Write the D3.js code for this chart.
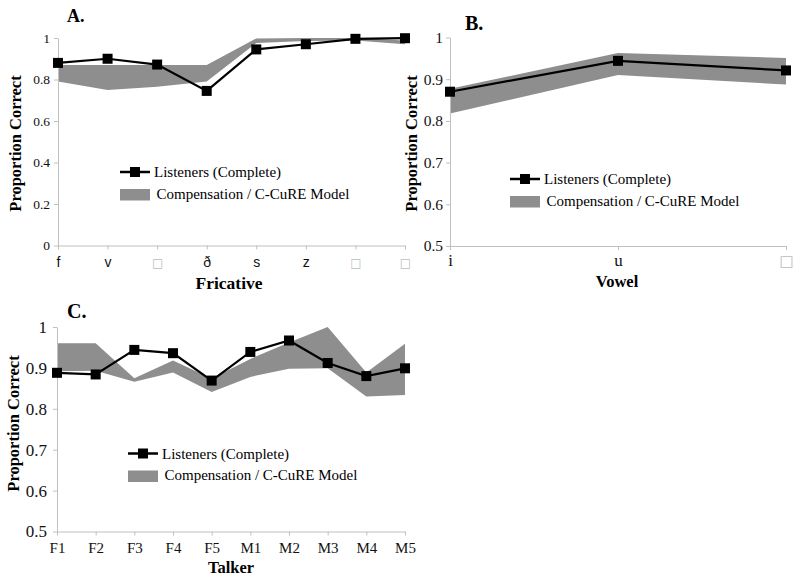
<!DOCTYPE html>
<html><head><meta charset="utf-8">
<script src="https://cdn.jsdelivr.net/npm/d3@7"></script>
<style>body{margin:0;background:#fff}svg{display:block}</style>
</head><body>
<svg id="chart" width="800" height="581"></svg>
<script>
// ---- Data ----
const fricatives = ["f", "v", "□", "ð", "s", "z", "□", "□"];
const fricListeners = [0.88, 0.90, 0.872, 0.745, 0.945, 0.970, 0.996, 0.999];
const fricModelLow  = [0.790, 0.750, 0.765, 0.790, 0.976, 0.986, 0.988, 0.970];
const fricModelHigh = [0.870, 0.870, 0.870, 0.870, 0.998, 1.000, 1.000, 0.988];
const fricYTicks = [0, 0.2, 0.4, 0.6, 0.8, 1];

const vowels = ["i", "u", "□"];
const vowelListeners = [0.870, 0.944, 0.921];
const vowelModelLow  = [0.818, 0.910, 0.887];
const vowelModelHigh = [0.877, 0.963, 0.951];
const vowelYTicks = [0.5, 0.6, 0.7, 0.8, 0.9, 1];

const talkers = ["F1", "F2", "F3", "F4", "F5", "M1", "M2", "M3", "M4", "M5"];
const talkerListeners = [0.888, 0.884, 0.944, 0.936, 0.869, 0.939, 0.967, 0.912, 0.880, 0.899];
const talkerModelLow  = [0.892, 0.893, 0.866, 0.889, 0.841, 0.878, 0.898, 0.899, 0.830, 0.834];
const talkerModelHigh = [0.960, 0.960, 0.875, 0.918, 0.874, 0.922, 0.962, 1.000, 0.889, 0.959];
const talkerYTicks = [0.5, 0.6, 0.7, 0.8, 0.9, 1];

const legendLabels = ["Listeners (Complete)", "Compensation / C-CuRE Model"];
const xTitles = ["Fricative", "Vowel", "Talker"];
const yTitle = "Proportion Correct";
const panelLetters = ["A.", "B.", "C."];

// ---- Style ----
const SERIF = "'Liberation Serif', 'Times New Roman', serif";
const SANS = "'Liberation Sans', Arial, sans-serif";
const AXIS = "#c0c0c0";
const BAND = "#8e8e8e";

const svg = d3.select("#chart");
const fmtTick = d => (d === 0 ? "0" : d === 1 ? "1" : d.toFixed(1));

function panel(o) {
  const g = svg.append("g");
  const n = o.cats.length;
  const x = d3.scalePoint().domain(d3.range(n)).range(o.xRange);
  const y = d3.scaleLinear().domain(o.yDomain).range(o.yRange);

  // band
  g.append("path")
    .datum(d3.range(n))
    .attr("fill", BAND)
    .attr("d", d3.area().x(i => x(i)).y0(i => y(o.low[i])).y1(i => y(o.high[i])));

  // y axis
  const ya = g.append("g").attr("transform", `translate(${o.xRange[0]},0)`)
    .call(d3.axisLeft(y).tickValues(o.yTicks).tickFormat(fmtTick)
      .tickSize(4).tickSizeOuter(0).tickPadding(o.yPad));
  ya.selectAll("path, line").attr("stroke", AXIS);
  ya.selectAll("text").attr("font-family", SERIF).attr("font-size", o.yFont).attr("fill", "#111");

  // x axis
  const xa = g.append("g").attr("transform", `translate(0,${o.yRange[0]})`)
    .call(d3.axisBottom(x).tickFormat(i => o.cats[i]).tickSize(4).tickSizeOuter(0));
  xa.selectAll("path, line").attr("stroke", AXIS);
  xa.selectAll("text")
    .attr("y", o.xLabelOffset).attr("dy", 0)
    .attr("font-family", i => o.cats[i] === "□" ? "'DejaVu Sans', sans-serif" : o.xFamily)
    .attr("font-size", i => o.cats[i] === "□" ? o.xFont - 2 : o.xFont)
    .attr("fill", i => o.cats[i] === "□" ? "#bbb" : "#111");

  // line + markers
  g.append("path")
    .datum(d3.range(n))
    .attr("fill", "none").attr("stroke", "#000").attr("stroke-width", 2.2)
    .attr("d", d3.line().x(i => x(i)).y(i => y(o.listeners[i])));
  g.selectAll("rect.m").data(d3.range(n)).join("rect")
    .attr("class", "m")
    .attr("x", i => x(i) - 5).attr("y", i => y(o.listeners[i]) - 5)
    .attr("width", 10).attr("height", 10).attr("fill", "#000");

  // titles
  g.append("text").attr("x", o.xTitleX).attr("y", o.xTitleY)
    .attr("text-anchor", "middle").attr("font-family", SERIF).attr("font-weight", "bold")
    .attr("font-size", o.xTitleSize).text(o.xTitle);
  g.append("text")
    .attr("transform", `translate(${o.yTitleX},${o.yTitleY}) rotate(-90)`)
    .attr("dy", "0.35em")
    .attr("text-anchor", "middle").attr("font-family", SERIF).attr("font-weight", "bold")
    .attr("font-size", 16.5).text(yTitle);
  g.append("text").attr("x", o.letterX).attr("y", o.letterY)
    .attr("font-family", SERIF).attr("font-weight", "bold")
    .attr("font-size", o.letterSize).text(o.letter);

  // legend
  const L = o.legend;
  g.append("line").attr("x1", L.x).attr("x2", L.x + 30).attr("y1", L.y).attr("y2", L.y)
    .attr("stroke", "#000").attr("stroke-width", 2.5);
  g.append("rect").attr("x", L.x + 10).attr("y", L.y - 5).attr("width", 10).attr("height", 10).attr("fill", "#000");
  g.append("text").attr("x", L.x + 34).attr("y", L.y + 5)
    .attr("font-family", SERIF).attr("font-size", 15).text(legendLabels[0]);
  g.append("rect").attr("x", L.x).attr("y", L.y + 17).attr("width", 30).attr("height", 11.5).attr("fill", BAND);
  g.append("text").attr("x", L.x + 36.5).attr("y", L.y + 26.5)
    .attr("font-family", SERIF).attr("font-size", 15).text(legendLabels[1]);
}

panel({
  cats: fricatives, listeners: fricListeners, low: fricModelLow, high: fricModelHigh,
  xRange: [58, 405], yDomain: [0, 1], yRange: [245.5, 38], yTicks: fricYTicks,
  yFont: 13.5, yPad: 4, xFont: 14, xFamily: SANS, xLabelOffset: 21.5,
  xTitle: xTitles[0], xTitleX: 229, xTitleY: 289, xTitleSize: 17.5,
  yTitleX: 15.5, yTitleY: 143.5,
  letter: panelLetters[0], letterX: 67, letterY: 21.7, letterSize: 18,
  legend: { x: 120, y: 172 }
});

panel({
  cats: vowels, listeners: vowelListeners, low: vowelModelLow, high: vowelModelHigh,
  xRange: [450, 786], yDomain: [0.5, 1], yRange: [246, 37.5], yTicks: vowelYTicks,
  yFont: 15.5, yPad: 3, xFont: 17, xFamily: SERIF, xLabelOffset: 20,
  xTitle: xTitles[1], xTitleX: 617, xTitleY: 286.5, xTitleSize: 16.5,
  yTitleX: 411.5, yTitleY: 143.5,
  letter: panelLetters[1], letterX: 465, letterY: 29.5, letterSize: 20,
  legend: { x: 510, y: 179 }
});

panel({
  cats: talkers, listeners: talkerListeners, low: talkerModelLow, high: talkerModelHigh,
  xRange: [57, 405], yDomain: [0.5, 1], yRange: [531.5, 327], yTicks: talkerYTicks,
  yFont: 17, yPad: 6, xFont: 15, xFamily: SERIF, xLabelOffset: 21.5,
  xTitle: xTitles[2], xTitleX: 231, xTitleY: 573, xTitleSize: 16.5,
  yTitleX: 13.5, yTitleY: 423.5,
  letter: panelLetters[2], letterX: 67, letterY: 318, letterSize: 20,
  legend: { x: 128, y: 453.5 }
});
</script>
</body></html>
